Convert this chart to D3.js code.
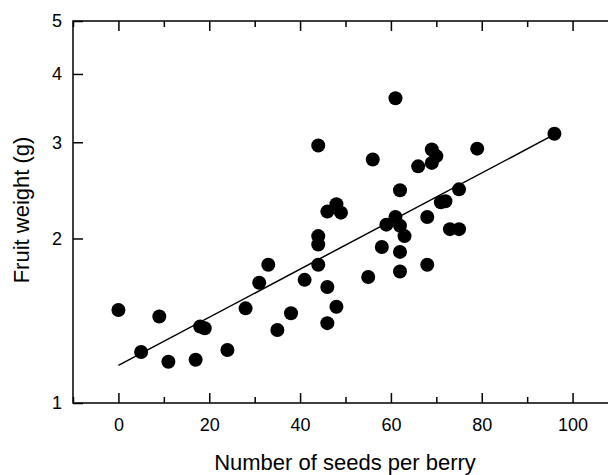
<!DOCTYPE html>
<html>
<head>
    <meta charset="utf-8" />
    <title></title>
    <style>
        body { margin: 0; background: #fff; }
        svg { display: block; font-family: "Liberation Sans", Arial, sans-serif; }
        .axis path.domain { display: none; }
        .axis line { stroke: #000; stroke-width: 1.5; }
        .axis text { fill: #000; font-size: 18px; }
    </style>
</head>
<body>
    <div id="chart"></div>
    <script src="https://cdn.jsdelivr.net/npm/d3@7"></script>
    <script>
        // seeds per berry (x) and fruit weight in g (y)
        var seeds = [0, 5, 9, 11, 17, 18, 19, 24, 28, 31, 33, 35, 38, 41, 44, 44, 44, 44,
            46, 48, 49, 46, 48, 46, 55, 56, 58, 59, 61, 61, 62, 62, 63, 62, 62, 66,
            68, 68, 69, 70, 69, 71, 72, 73, 75, 75, 79, 96];
        var weight = [1.48, 1.24, 1.44, 1.19, 1.2, 1.38, 1.37, 1.25, 1.49, 1.66, 1.79, 1.36, 1.46, 1.68, 2.96, 2.02, 1.95, 1.79,
            2.24, 2.31, 2.23, 1.63, 1.5, 1.4, 1.7, 2.79, 1.93, 2.12, 3.61, 2.19, 2.45, 2.11, 2.02, 1.89, 1.74, 2.71,
            2.19, 1.79, 2.91, 2.83, 2.75, 2.33, 2.34, 2.08, 2.08, 2.46, 2.92, 3.11];
        // fitted line end points
        var fitX = [0, 96];
        var fitY = [1.172, 3.1];
        var xTicks = [0, 20, 40, 60, 80, 100];
        var xMinor = [-10, 10, 30, 50, 70, 90, 110];
        var yTicks = [1, 2, 3, 4, 5];

        var W = 608, H = 475;
        var margins = { left: 73, top: 21, right: -10, bottom: 72 };

        var svg = d3.select("#chart").append("svg")
            .attr("width", W)
            .attr("height", H);

        var x = d3.scaleLinear().domain([-10, 110]).range([margins.left, 618]);
        var y = d3.scaleLog().domain([1, 5]).range([403, margins.top]);

        var g = svg.append("g");

        // bottom
        g.append("g").attr("class", "axis")
            .attr("transform", "translate(0," + y(1) + ")")
            .call(d3.axisBottom(x).tickValues(xTicks).tickSize(-10).tickPadding(15));
        g.append("g").attr("class", "axis")
            .attr("transform", "translate(0," + y(1) + ")")
            .call(d3.axisBottom(x).tickValues(xMinor).tickSize(-6).tickFormat(""));
        // top
        g.append("g").attr("class", "axis")
            .attr("transform", "translate(0," + y(5) + ")")
            .call(d3.axisTop(x).tickValues(xTicks).tickSize(-10).tickFormat(""));
        g.append("g").attr("class", "axis")
            .attr("transform", "translate(0," + y(5) + ")")
            .call(d3.axisTop(x).tickValues(xMinor).tickSize(-6).tickFormat(""));
        // left
        g.append("g").attr("class", "axis")
            .attr("transform", "translate(" + x(-10) + ",0)")
            .call(d3.axisLeft(y).tickValues(yTicks).tickSize(-10).tickPadding(11).tickFormat(d3.format("d")));
        // right
        g.append("g").attr("class", "axis")
            .attr("transform", "translate(" + x(110) + ",0)")
            .call(d3.axisRight(y).tickValues(yTicks).tickSize(-10).tickFormat(""));

        // frame
        g.append("rect")
            .attr("x", x(-10))
            .attr("y", y(5))
            .attr("width", x(110) - x(-10))
            .attr("height", y(1) - y(5))
            .attr("fill", "none")
            .attr("stroke", "#000")
            .attr("stroke-width", 1.5);

        // fit line
        var line = d3.line()
            .x(function (d) { return x(d[0]); })
            .y(function (d) { return y(d[1]); });
        g.append("path")
            .datum(d3.zip(fitX, fitY))
            .attr("d", line)
            .attr("fill", "none")
            .attr("stroke", "#000")
            .attr("stroke-width", 1.5);

        // points
        g.selectAll("circle.pt")
            .data(d3.zip(seeds, weight))
            .join("circle")
            .attr("class", "pt")
            .attr("cx", function (d) { return x(d[0]); })
            .attr("cy", function (d) { return y(d[1]); })
            .attr("r", 7)
            .attr("fill", "#000");

        // axis titles
        svg.append("text")
            .attr("x", 345)
            .attr("y", 470)
            .attr("text-anchor", "middle")
            .style("font-size", "22px")
            .text("Number of seeds per berry");

        svg.append("text")
            .attr("transform", "translate(29,210) rotate(-90)")
            .attr("text-anchor", "middle")
            .style("font-size", "22px")
            .text("Fruit weight (g)");
    </script>
</body>
</html>
